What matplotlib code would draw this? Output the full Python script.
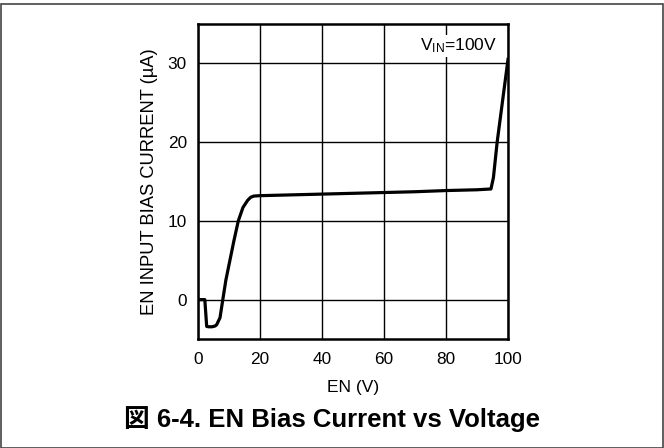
import matplotlib
matplotlib.use("Agg")
import matplotlib.pyplot as plt
from matplotlib.patches import Rectangle

plt.rcParams['font.family'] = ['Liberation Sans', 'Noto Sans CJK JP', 'DejaVu Sans']
plt.rcParams['mathtext.fontset'] = 'custom'
plt.rcParams['mathtext.rm'] = 'Liberation Sans'
plt.rcParams['mathtext.it'] = 'Liberation Sans'

# Data
en_v = [0, 2.2, 2.8, 3.5, 4.5, 5.5, 6.0, 7.1, 8.0, 9.0, 10.3, 11.6, 13.0, 14.5, 16.0, 17.0,
        18.0, 20, 30, 40, 50, 60, 70, 80, 90, 94.5, 95.3, 96.5, 100]
bias_current = [0, 0, -3.4, -3.45, -3.45, -3.35, -3.2, -2.3, 0, 2.5, 5, 7.5, 10, 11.7, 12.6,
                13.0, 13.15, 13.2, 13.3, 13.4, 13.5, 13.6, 13.7, 13.85, 13.95, 14.05, 15.5,
                20, 30.5]
x_ticks = [0, 20, 40, 60, 80, 100]
y_ticks = [0, 10, 20, 30]

fig = plt.figure(figsize=(6.64, 4.48), dpi=100)
ax = fig.add_axes([198/664, 1-339/448, 310/664, 315/448])

ax.plot(en_v, bias_current, color='black', lw=2.3, solid_joinstyle='round', zorder=3)
ax.set_xlim(0, 100)
ax.set_ylim(-5, 35)
ax.set_xticks(x_ticks)
ax.set_yticks(y_ticks)
ax.grid(True, color='black', lw=1.0)
ax.tick_params(length=0, labelsize=12.4)
ax.tick_params(axis='x', pad=9.5)
ax.tick_params(axis='y', pad=8)
for s in ax.spines.values():
    s.set_linewidth(1.8)
ax.set_xlabel('EN (V)', fontsize=12.5, labelpad=9)
ax.set_ylabel('EN INPUT BIAS CURRENT (µA)', fontsize=13.2, labelpad=7)
ax.text(0.965, 0.96, r'V$_{\mathrm{IN}}$=100V', transform=ax.transAxes, ha='right', va='top',
        fontsize=12.5, bbox=dict(facecolor='white', edgecolor='none', pad=1))

fig.text(0.5, 1-419/448, '図 6-4. EN Bias Current vs Voltage', ha='center', va='center',
         fontsize=18.5, fontweight='bold')

fig.patches.append(Rectangle((0.5/664, 0.5/448), 1-1.5/664, 1-4.5/448, transform=fig.transFigure,
                             fill=False, edgecolor='#444444', lw=1.2))

fig.savefig('out.png', dpi=100)
